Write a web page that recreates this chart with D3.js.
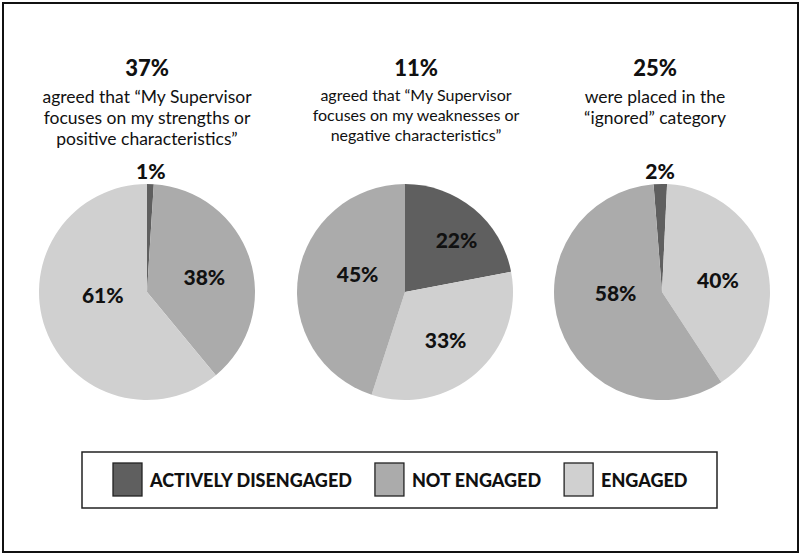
<!DOCTYPE html>
<html>
<head>
<meta charset="utf-8">
<script src="https://cdn.jsdelivr.net/npm/d3@7"></script>
<style>
  html, body { margin: 0; padding: 0; background: #fff; }
  svg { display: block; font-family: Lato, "Open Sans", sans-serif; }
</style>
</head>
<body>
<svg id="chart" width="800" height="555"></svg>
<script>
// Engagement categories, in legend order
const categories = ["ACTIVELY DISENGAGED", "NOT ENGAGED", "ENGAGED"];

// Headline figures above each pie
const headlines = [37, 11, 25];

// Caption lines under each headline
const captionStrengths = ["agreed that \u201cMy Supervisor", "focuses on my strengths or", "positive characteristics\u201d"];
const captionWeaknesses = ["agreed that \u201cMy Supervisor", "focuses on my weaknesses or", "negative characteristics\u201d"];
const captionIgnored = ["were placed in the", "\u201cignored\u201d category"];

// Slice shares (%), listed clockwise from the top; cat = index into categories
const strengthsCats = [0, 1, 2];
const strengthsValues = [1, 38, 61];
const weaknessesCats = [0, 2, 1];
const weaknessesValues = [22, 33, 45];
const ignoredCats = [0, 2, 1];
const ignoredValues = [2, 40, 58];

const colors = ["#5f5f5f", "#ababab", "#d0d0d0"];

const svg = d3.select("#chart");

// outer frame
svg.append("rect")
  .attr("x", 3).attr("y", 3).attr("width", 795).attr("height", 549)
  .attr("fill", "none").attr("stroke", "#111").attr("stroke-width", 2);

const radius = 108;

// Per-panel layout: pie centre, caption centre, caption font size, start rotation,
// and label placement (angle nudge in degrees, radius fraction) for inside labels
const panels = [
  { cx: 147, cy: 292, tx: 147, capSize: 17.5, capGap: 21, capY: 103, rot: 0,
    cats: strengthsCats, values: strengthsValues, caption: captionStrengths, head: headlines[0],
    nudge: [0, 3, 17], rf: [1, 0.55, 0.41] },
  { cx: 405, cy: 292, tx: 416, capSize: 16, capGap: 20, capY: 101, rot: 0,
    cats: weaknessesCats, values: weaknessesValues, caption: captionWeaknesses, head: headlines[1],
    nudge: [5, 1, 12], rf: [0.68, 0.58, 0.47] },
  { cx: 662, cy: 292, tx: 655, capSize: 17.5, capGap: 21, capY: 103, rot: -4.5,
    cats: ignoredCats, values: ignoredValues, caption: captionIgnored, head: headlines[2],
    nudge: [0, 3, 18], rf: [1, 0.53, 0.43] }
];

const arc = d3.arc().innerRadius(0).outerRadius(radius);

panels.forEach(p => {
  const g = svg.append("g");

  // headline + caption
  g.append("text")
    .attr("x", p.tx).attr("y", 76)
    .attr("text-anchor", "middle")
    .attr("font-weight", 900).attr("font-size", 22).attr("fill", "#111")
    .text(p.head + "%");
  p.caption.forEach((line, i) => {
    g.append("text")
      .attr("x", p.tx).attr("y", p.capY + i * p.capGap)
      .attr("text-anchor", "middle")
      .attr("font-size", p.capSize).attr("fill", "#111")
      .text(line);
  });

  const rot = p.rot * Math.PI / 180;
  const pie = d3.pie().sort(null).value(d => d.v)
    .startAngle(rot).endAngle(rot + 2 * Math.PI);
  const arcs = pie(p.values.map((v, i) => ({ v, cat: p.cats[i] })));

  const pg = g.append("g").attr("transform", `translate(${p.cx},${p.cy})`);
  pg.selectAll("path").data(arcs).join("path")
    .attr("d", arc)
    .attr("fill", d => colors[d.data.cat]);

  // value labels: tiny slices get theirs just outside the rim
  pg.selectAll("text").data(arcs).join("text")
    .each(function (d, i) {
      const mid = (d.startAngle + d.endAngle) / 2;
      const small = d.data.v < 5;
      const a = mid + p.nudge[i] * Math.PI / 180;
      const r = small ? radius + 14 : radius * p.rf[i];
      d3.select(this)
        .attr("x", Math.sin(a) * r)
        .attr("y", -Math.cos(a) * r);
    })
    .attr("text-anchor", "middle")
    .attr("dominant-baseline", "central")
    .attr("font-weight", 900).attr("font-size", 21).attr("fill", "#111")
    .text(d => d.data.v + "%");
});

// legend
const lg = svg.append("g");
lg.append("rect")
  .attr("x", 82).attr("y", 452).attr("width", 635).attr("height", 56)
  .attr("fill", "#fff").attr("stroke", "#222").attr("stroke-width", 1.5);

let lx = 113;
categories.forEach((c, i) => {
  lg.append("rect")
    .attr("x", lx).attr("y", 463).attr("width", 29).attr("height", 33)
    .attr("fill", colors[i]).attr("stroke", "#222").attr("stroke-width", 1.3);
  const t = lg.append("text")
    .attr("x", lx + 37).attr("y", 480)
    .attr("dominant-baseline", "central")
    .attr("font-weight", 900).attr("font-size", 18).attr("fill", "#111")
    .text(c);
  lx += 37 + t.node().getComputedTextLength() + 23;
});
</script>
</body>
</html>
